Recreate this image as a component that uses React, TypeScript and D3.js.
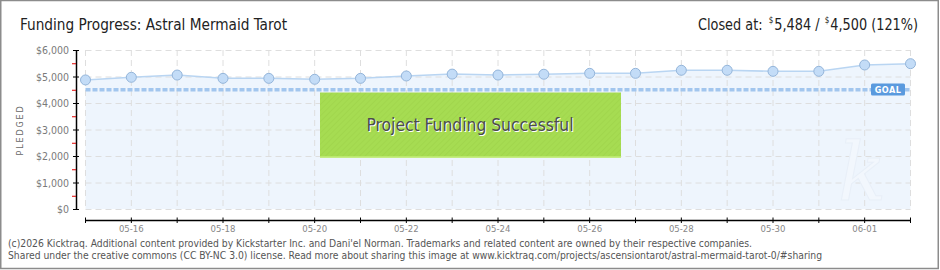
import React from "react";
import * as d3 from "d3";

const days = ["05-15","05-16","05-17","05-18","05-19","05-20","05-21","05-22","05-23","05-24","05-25","05-26","05-27","05-28","05-29","05-30","05-31","06-01","06-02"];
const pledged = [4870,4970,5055,4930,4930,4895,4930,5020,5090,5055,5085,5120,5120,5235,5235,5195,5195,5435,5484];
const goal = 4500;
const yTicks = [0,1000,2000,3000,4000,5000,6000];
const yMinor = [500,1500,2500,3500,4500,5500];
const xLabelDays = ["05-16","05-18","05-20","05-22","05-24","05-26","05-28","05-30","06-01"];

const FONT = "'DejaVu Sans Condensed', 'DejaVu Sans', sans-serif";

export default function App() {
  const x = d3.scalePoint<string>().domain(days).range([85.5, 910.5]);
  const y = d3.scaleLinear().domain([0, 6000]).range([209, 50]);
  const data = days.map((d, i) => ({ d, v: pledged[i] }));
  const line = d3.line<{ d: string; v: number }>().x(p => x(p.d)!).y(p => y(p.v));
  const area = d3.area<{ d: string; v: number }>().x(p => x(p.d)!).y0(y(0)).y1(p => y(p.v));
  const x0 = x(days[0])!;
  const x1 = x(days[days.length - 1])!;
  const fmt = d3.format(",");

  return (
    <svg width={940} height={270} style={{ position: "absolute", left: 0, top: 0, background: "#fff" }} fontFamily={FONT}>
      <defs>
        <pattern id="hatch" width="4" height="4" patternUnits="userSpaceOnUse" patternTransform="rotate(45)">
          <rect width="4" height="4" fill="#a6dc52" />
          <line x1="0" y1="0" x2="0" y2="4" stroke="#9dd249" strokeWidth="1.2" />
        </pattern>
      </defs>
      <rect x={0.75} y={0.5} width={937.5} height={268} fill="#fff" stroke="#8c8c8c" strokeWidth={1.5} />

      {/* title */}
      <text x={20} y={30} fontSize={16} fill="#222" textLength={267} lengthAdjust="spacingAndGlyphs">Funding Progress: Astral Mermaid Tarot</text>
      <text x={698} y={30} fontSize={16} fill="#222" textLength={220} lengthAdjust="spacingAndGlyphs">
        Closed at:
        <tspan dx={7} dy={-7} fontSize={9}>$</tspan>
        <tspan dx={1} dy={7}>5,484 /</tspan>
        <tspan dx={6} dy={-7} fontSize={9}>$</tspan>
        <tspan dx={1} dy={7}>4,500 (121%)</tspan>
      </text>

      {/* area */}
      <path d={area(data)!} fill="#eef5fd" />

      {/* grid */}
      {yTicks.map(t => (
        <line key={"hg" + t} x1={x0} x2={x1} y1={y(t) + 0.5} y2={y(t) + 0.5} stroke="#dedede" strokeDasharray="6,4" />
      ))}
      {days.map(d => (
        <line key={"vg" + d} x1={x(d)} x2={x(d)} y1={50} y2={209} stroke="#dedede" strokeDasharray="6,4" />
      ))}

      {/* watermark */}
      <text x={838} y={200} fontSize={80} fontStyle="italic" fontFamily="'DejaVu Serif', serif" fill="#f2f7fd" stroke="#e8eff8" strokeWidth={1}>k</text>

      {/* goal line */}
      <line x1={x0} x2={x1} y1={y(goal)} y2={y(goal)} stroke="#a2c6ee" strokeWidth={3.5} strokeDasharray="5,2" />
      <rect x={871} y={83.5} width={34} height={12} rx={1.5} fill="#5a9ade" />
      <text x={888} y={93} fontSize={9} fill="#fff" textAnchor="middle" letterSpacing={0.5} fontWeight="bold">GOAL</text>

      {/* line & points */}
      <path d={line(data)!} fill="none" stroke="#b9d5f2" strokeWidth={1.5} />
      {data.map(p => (
        <circle key={"pt" + p.d} cx={x(p.d)} cy={y(p.v)} r={5} fill="#c3dcf7" stroke="#94b5da" strokeWidth={1} />
      ))}

      {/* success box */}
      <rect x={320} y={92.5} width={301} height={65} fill="url(#hatch)" />
      <line x1={320} x2={621} y1={157} y2={157} stroke="#c2ee78" strokeWidth={1.5} />
      <text x={471} y={132} fontSize={17} fill="#fff" textAnchor="middle" textLength={207} lengthAdjust="spacingAndGlyphs">Project Funding Successful</text>
      <text x={470} y={131} fontSize={17} fill="#4c4c4c" textAnchor="middle" textLength={207} lengthAdjust="spacingAndGlyphs">Project Funding Successful</text>

      {/* y axis */}
      <line x1={76.5} x2={76.5} y1={50} y2={209.5} stroke="#000" strokeWidth={1.5} />
      {yTicks.map(t => (
        <g key={"yt" + t}>
          <line x1={73} x2={79} y1={y(t) + 0.5} y2={y(t) + 0.5} stroke="#000" />
          <text x={69} y={y(t) + 4} fontSize={10.5} fill="#7a7a7a" textAnchor="end">${fmt(t)}</text>
        </g>
      ))}
      {yMinor.map(t => (
        <line key={"ym" + t} x1={72} x2={76} y1={y(t) + 0.5} y2={y(t) + 0.5} stroke="#e00000" />
      ))}
      <text transform="translate(23,130) rotate(-90)" fontSize={9} fill="#666" textAnchor="middle" letterSpacing={1.8}>PLEDGED</text>

      {/* x axis */}
      <line x1={x0} x2={x1} y1={220.5} y2={220.5} stroke="#000" strokeWidth={1.5} />
      {days.map(d => (
        <line key={"xt" + d} x1={x(d)} x2={x(d)} y1={217.5} y2={223} stroke="#000" />
      ))}
      {xLabelDays.map(d => (
        <text key={"xl" + d} x={x(d)} y={232} fontSize={9.5} fill="#888" textAnchor="middle">{d}</text>
      ))}

      {/* footer */}
      <text x={8} y={247} fontSize={10} fill="#555" textLength={744} lengthAdjust="spacingAndGlyphs">(c)2026 Kicktraq. Additional content provided by Kickstarter Inc. and Dani'el Norman. Trademarks and related content are owned by their respective companies.</text>
      <text x={8} y={259} fontSize={10} fill="#555" textLength={814} lengthAdjust="spacingAndGlyphs">Shared under the creative commons (CC BY-NC 3.0) license. Read more about sharing this image at www.kicktraq.com/projects/ascensiontarot/astral-mermaid-tarot-0/#sharing</text>
    </svg>
  );
}
